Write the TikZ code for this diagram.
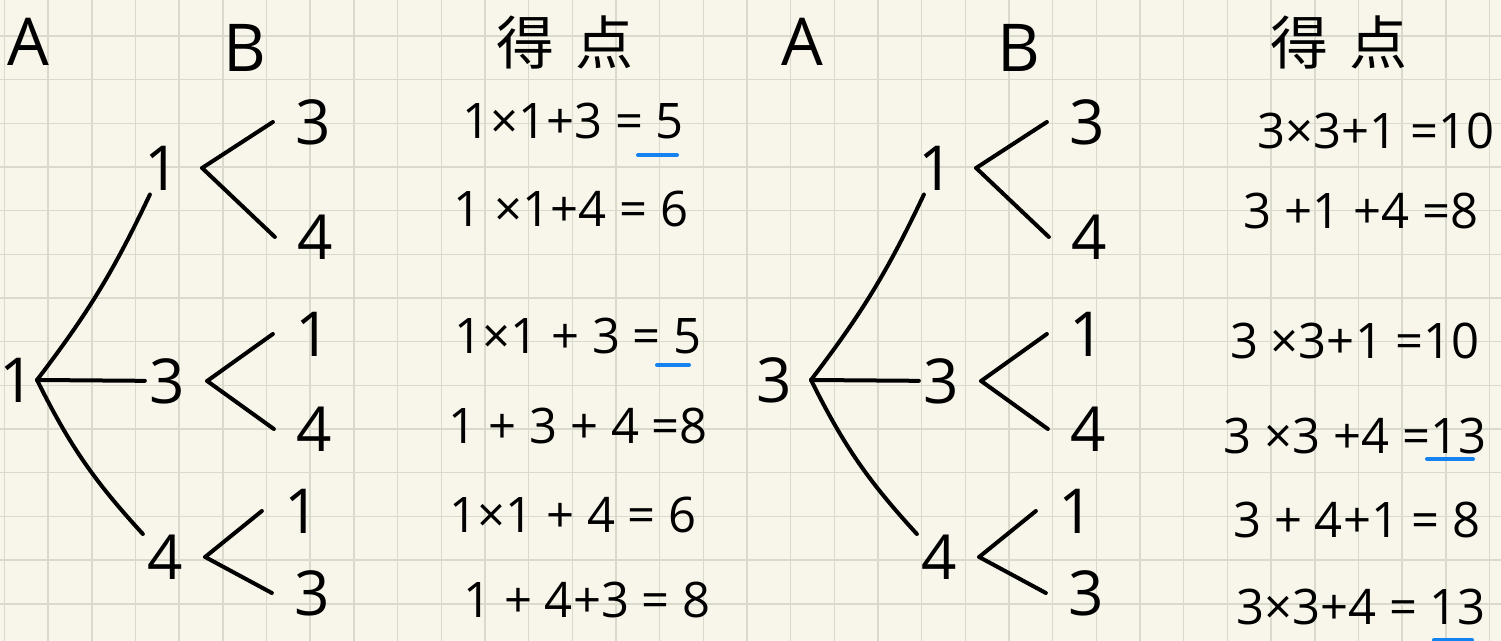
\documentclass[tikz,border=0pt]{standalone}
\usepackage{fontspec}
\setmainfont{Open Sans}
\newfontfamily\cjk{Noto Sans CJK JP}
\usetikzlibrary{positioning}

\definecolor{paper}{RGB}{248,246,234}
\definecolor{gridline}{RGB}{218,218,204}
\definecolor{mark}{RGB}{20,130,240}

\begin{document}
\begin{tikzpicture}[x=0.5pt,y=-0.5pt,
    ink/.style={line width=2pt, line cap=round, line join=round},
    num/.style={inner xsep=2pt, inner ysep=2pt, font=\fontsize{31}{34}\selectfont},
    leaf/.style={num, inner xsep=11pt},
    head/.style={font=\fontsize{33}{36}\selectfont},
    sum/.style={font=\fontsize{24.5}{28}\selectfont, inner sep=0pt},
    hit/.style={line width=2pt, line cap=round, draw=mark}]
  % paper
  \useasboundingbox (0,0) rectangle (1501,641);
  \fill[paper] (0,0) rectangle (1501,641);

  % grid lines
  \foreach \i in {0,...,34}
    \draw[gridline, line width=0.8pt] ({4.6+43.67*\i},0) -- ++(0,641);
  \foreach \j in {0,...,13}
    \draw[gridline, line width=0.8pt] (0,{36+43.67*\j}) -- ++(1501,0);

  % the two trees
  \foreach \t/\ox/\rx/\rt in {L/0/17/1, R/774/0/3}{
    \begin{scope}[shift={(\ox,0)}]
      % headings
      \node[head] (hA\t) at (28,42) {A};
      \node[head] (hB\t) at (245,48) {B};
      \node[font=\cjk\fontsize{29}{32}\selectfont] (hS\t) at (565,42) {得\hspace{11pt}点};

      % A's card
      \node[num] (root\t) at (\rx,380) {\rt};
      \coordinate (j\t) at (37,380);

      % B's first card
      \node[num] (a1\t) at (162,168) {1};
      \node[num] (a3\t) at (167,381) {3};
      \node[num] (a4\t) at (165,557) {4};
      \coordinate[right=9pt of a1\t] (f1\t);
      \coordinate[right=9pt of a3\t] (f3\t);
      \coordinate[right=9pt of a4\t] (f4\t);

      % B's second card
      \node[leaf] (b13\t) at (313,122) {3};
      \node[leaf] (b14\t) at (315,237) {4};
      \node[leaf] (b31\t) at (313,334) {1};
      \node[leaf] (b34\t) at (314,429) {4};
      \node[leaf] (b41\t) at (302,511) {1};
      \node[leaf] (b43\t) at (312,593) {3};

      \draw[ink] (j\t) to[bend right=6] (a1\t);
      \draw[ink] (j\t) -- (a3\t);
      \draw[ink] (j\t) to[bend right=8] (a4\t);

      \draw[ink] (f1\t) -- (b13\t.west);
      \draw[ink] (f1\t) -- (b14\t.west);
      \draw[ink] (f3\t) -- (b31\t.west);
      \draw[ink] (f3\t) -- (b34\t.west);
      \draw[ink] (f4\t) -- (b41\t.west);
      \draw[ink] (f4\t) -- (b43\t.west);
    \end{scope}
  }

  % scores
  \foreach \n/\x/\y/\txt in {
      L1/573/121/{1×1+3 = 5}, L2/571/209/{1 ×1+4 = 6}, L3/578/336/{1×1 + 3 = 5},
      L4/578/426/{1 + 3 + 4 =8}, L5/573/515/{1×1 + 4 = 6}, L6/587/600/{1 + 4+3 = 8},
      R1/1376/131/{3×3+1 =10}, R2/1361/211/{3 +1 +4 =8}, R3/1355/341/{3 ×3+1 =10},
      R4/1355/436/{3 ×3 +4 =13}, R5/1357/520/{3 + 4+1 = 8}, R6/1361/607/{3×3+4 = 13}}
    \node[sum] (eq\n) at (\x,\y) {\txt};

  % best scores
  \draw[hit] (638,155) -- (677,155);
  \draw[hit] (657,365) -- (689,365);
  \draw[hit] (1427,459) -- (1473,459);
  \draw[hit] (1434,640) -- (1472,640);
\end{tikzpicture}
\end{document}
